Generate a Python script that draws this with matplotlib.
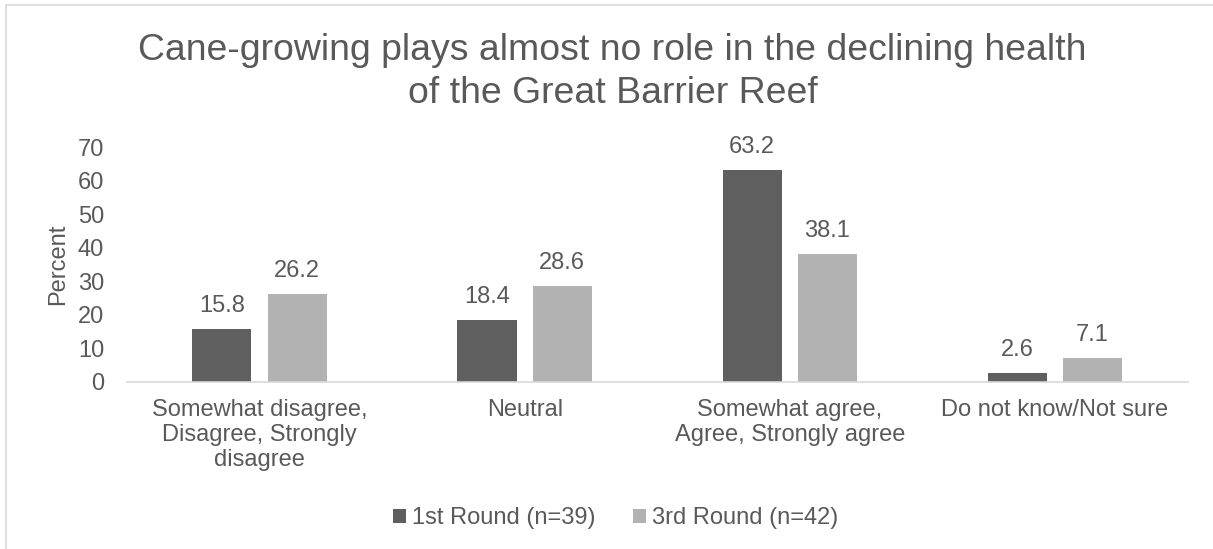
import matplotlib.pyplot as plt
from matplotlib.lines import Line2D
import numpy as np

categories = ["Somewhat disagree,\nDisagree, Strongly\ndisagree", "Neutral",
              "Somewhat agree,\nAgree, Strongly agree", "Do not know/Not sure"]
round1 = [15.8, 18.4, 63.2, 2.6]
round3 = [26.2, 28.6, 38.1, 7.1]
series_names = ["1st Round (n=39)", "3rd Round (n=42)"]
title = "Cane-growing plays almost no role in the declining health\nof the Great Barrier Reef"

plt.rcParams['font.family'] = ['Liberation Sans', 'DejaVu Sans']
txt = '#595959'
dark = '#5f5f5f'
light = '#b2b2b2'
fs = 17

fig = plt.figure(figsize=(12.13, 5.49), dpi=100)
ax = fig.add_axes([0.1047, 0.3042, 0.8743, 0.428])

x = np.arange(len(categories))
w = 0.223
off = 0.142
b1 = ax.bar(x - off, round1, w, color=dark, label=series_names[0])
b2 = ax.bar(x + off, round3, w, color=light, label=series_names[1])
for bars in (b1, b2):
    for r in bars:
        ax.text(r.get_x() + r.get_width() / 2, r.get_height() + 5, f"{r.get_height():.1f}",
                ha='center', va='baseline', fontsize=fs, color=txt)

ax.set_xlim(-0.5, len(categories) - 0.5)
ax.set_ylim(0, 70)
ax.set_yticks(range(0, 71, 10))
ax.set_xticks(x)
ax.set_xticklabels(categories, fontsize=fs, color=txt, linespacing=1.2)
ax.tick_params(axis='y', labelsize=fs, labelcolor=txt, length=0, pad=16.5)
ax.tick_params(axis='x', length=0, pad=12)
for s in ('top', 'right', 'left'):
    ax.spines[s].set_visible(False)
ax.spines['bottom'].set_color('#d9d9d9')
ax.spines['bottom'].set_linewidth(1.2)
ax.set_ylabel("Percent", fontsize=fs, color=txt, labelpad=6)

fig.text(0.505, 0.869, title, ha='center', va='center', fontsize=26.9, color=txt, linespacing=1.27)

leg = ax.legend(loc='center', bbox_to_anchor=(0.461, -0.579), ncol=2, frameon=False,
                fontsize=fs, handlelength=0.55, handleheight=0.55, handletextpad=0.25,
                columnspacing=1.6)
for t in leg.get_texts():
    t.set_color(txt)

# chart frame edges
fig.add_artist(Line2D([6 / 1213, 1], [1 - 5 / 549, 1 - 5 / 549], color='#d9d9d9', lw=1.2))
fig.add_artist(Line2D([6 / 1213, 6 / 1213], [0, 1 - 5 / 549], color='#d9d9d9', lw=1.2))

fig.savefig('out.png', dpi=100)
